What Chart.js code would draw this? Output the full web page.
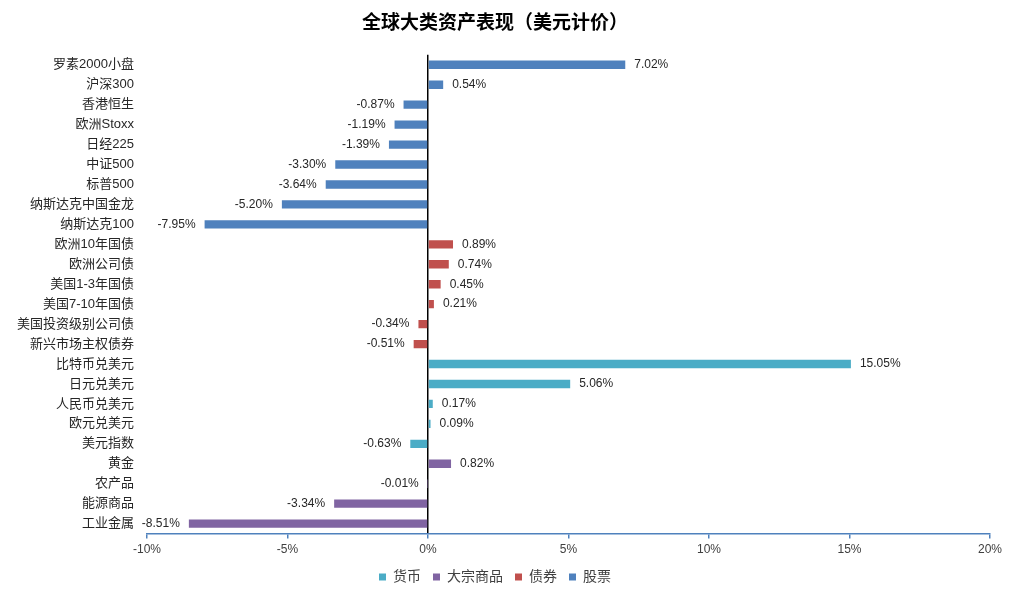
<!DOCTYPE html>
<html>
<head>
<meta charset="utf-8">
<script src="https://cdn.jsdelivr.net/npm/chart.js@4.4.1/dist/chart.umd.min.js"></script>
<style>
  body { margin: 0; background: #fff; }
  #wrap { width: 1016px; height: 596px; }
</style>
</head>
<body>
<div id="wrap"><canvas id="assetChart"></canvas></div>
<script>
const categories = ['罗素2000小盘', '沪深300', '香港恒生', '欧洲Stoxx', '日经225', '中证500', '标普500', '纳斯达克中国金龙', '纳斯达克100',
    '欧洲10年国债', '欧洲公司债', '美国1-3年国债', '美国7-10年国债', '美国投资级别公司债', '新兴市场主权债券',
    '比特币兑美元', '日元兑美元', '人民币兑美元', '欧元兑美元', '美元指数',
    '黄金', '农产品', '能源商品', '工业金属'];
const returns = [7.02, 0.54, -0.87, -1.19, -1.39, -3.30, -3.64, -5.20, -7.95,
    0.89, 0.74, 0.45, 0.21, -0.34, -0.51,
    15.05, 5.06, 0.17, 0.09, -0.63,
    0.82, -0.01, -3.34, -8.51];
const assetGroup = ['股票', '股票', '股票', '股票', '股票', '股票', '股票', '股票', '股票',
    '债券', '债券', '债券', '债券', '债券', '债券',
    '货币', '货币', '货币', '货币', '货币',
    '大宗商品', '大宗商品', '大宗商品', '大宗商品'];
const groupNames = ['货币', '大宗商品', '债券', '股票'];
const groupColors = ['#4bacc6', '#8064a2', '#c0504d', '#4f81bd'];
const xTicks = [-10, -5, 0, 5, 10, 15, 20];

const cjk = '"Liberation Sans", "Noto Sans CJK SC", sans-serif';

const datasets = groupNames.map(function(g, i) {
    return {
        label: g,
        data: returns.map((v, k) => assetGroup[k] === g ? v : null),
        backgroundColor: groupColors[i],
        borderWidth: 0,
        grouped: false,
        barPercentage: 0.42,
        categoryPercentage: 1
    };
});

const valueLabels = {
    id: 'valueLabels',
    afterDatasetsDraw(chart) {
        const ctx = chart.ctx;
        ctx.save();
        ctx.font = '12px ' + cjk;
        ctx.fillStyle = '#262626';
        ctx.textBaseline = 'middle';
        chart.data.datasets.forEach(function(ds, i) {
            chart.getDatasetMeta(i).data.forEach(function(bar, k) {
                const v = ds.data[k];
                if (v === null) return;
                const txt = v.toFixed(2) + '%';
                if (v > 0) {
                    ctx.textAlign = 'left';
                    ctx.fillText(txt, bar.x + 9, bar.y);
                } else {
                    ctx.textAlign = 'right';
                    ctx.fillText(txt, bar.x - 9, bar.y);
                }
            });
        });
        ctx.restore();
    }
};

new Chart(document.getElementById('assetChart'), {
    type: 'bar',
    data: { labels: categories, datasets: datasets },
    plugins: [valueLabels],
    options: {
        indexAxis: 'y',
        responsive: true,
        maintainAspectRatio: false,
        animation: false,
        layout: { padding: { left: 0, right: 26, top: 4, bottom: 2 } },
        plugins: {
            title: {
                display: true,
                text: '全球大类资产表现（美元计价）',
                color: '#000',
                font: { size: 19, weight: 'bold', family: cjk },
                padding: { top: 8, bottom: 20 }
            },
            legend: {
                position: 'bottom',
                labels: {
                    boxWidth: 7,
                    boxHeight: 7,
                    padding: 12,
                    color: '#404040',
                    font: { size: 14, family: cjk }
                }
            },
            tooltip: { enabled: false }
        },
        scales: {
            x: {
                min: -10,
                max: 20,
                afterBuildTicks: function(scale) {
                    scale.ticks = xTicks.map(v => ({ value: v }));
                },
                afterFit: function(scale) { scale.height -= 3; },
                ticks: {
                    color: '#404040',
                    font: { size: 12, family: cjk },
                    padding: 4,
                    callback: v => v + '%'
                },
                grid: {
                    color: c => c.tick && c.tick.value === 0 ? '#000' : 'rgba(0,0,0,0)',
                    lineWidth: 1.5,
                    tickColor: '#4f81bd',
                    tickLength: 5,
                    drawTicks: true
                },
                border: { color: '#4f81bd', width: 1.5 }
            },
            y: {
                afterFit: function(scale) { scale.width = 147; },
                ticks: {
                    color: '#262626',
                    font: { size: 13, family: cjk },
                    padding: 5,
                    autoSkip: false
                },
                grid: { display: false },
                border: { display: false }
            }
        }
    }
});
</script>
</body>
</html>
